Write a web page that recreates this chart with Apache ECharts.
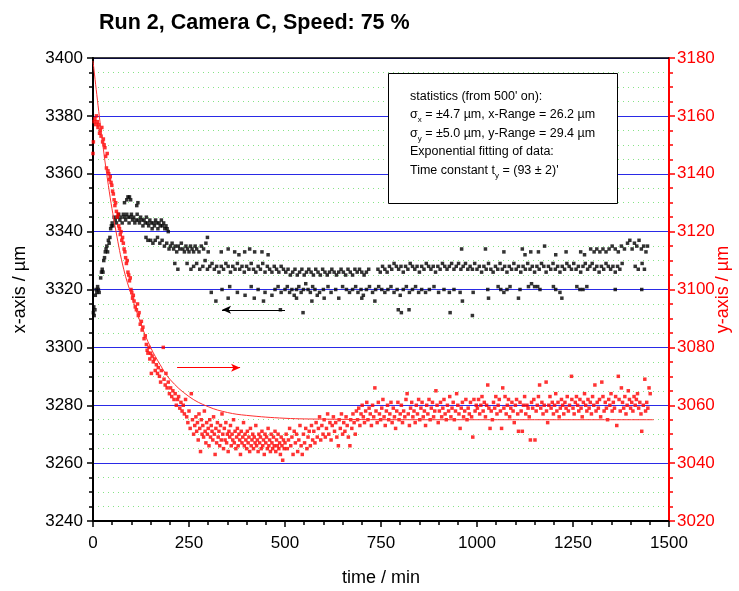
<!DOCTYPE html>
<html>
<head>
<meta charset="utf-8">
<script src="https://cdn.jsdelivr.net/npm/echarts@6/dist/echarts.min.js"></script>
<style>
html, body { margin: 0; padding: 0; background: #fff; }
#main { width: 739px; height: 591px; }
</style>
</head>
<body>
<div id="main"></div>
<script>
// x position (left axis, black), pairs [time, value]
var xStart = [[1,3312],[2,3314],[3,3311],[5,3313],[6,3318],[8,3320],[10,3319],[12,3321],[14,3320],[16,3319],[20,3324],[22,3326],[24,3327],[26,3326],[28,3330],[30,3331],[32,3333],[34,3334],[36,3335],[38,3333],[40,3337],[42,3336],[44,3338],[46,3341],[48,3342],[50,3343]];
var xPeak = [[52,3342],[55,3345],[58,3344],[61,3343],[64,3345],[67,3346],[70,3344],[73,3345],[76,3343],[79,3346],[82,3345],[85,3344],[88,3346],[91,3345],[94,3343],[97,3345],[100,3346],[103,3344],[106,3345],[109,3343],[112,3344],[115,3346],[118,3344],[121,3343],[124,3345],[127,3344],[130,3342],[133,3344],[136,3343],[139,3345],[142,3343],[145,3342],[148,3344],[151,3343],[154,3341],[157,3343],[160,3342],[163,3344],[166,3343],[169,3341],[172,3343],[175,3342],[178,3344],[181,3342],[184,3343],[187,3341],[190,3342],[193,3341],[196,3340],
  [82,3350],[88,3351],[91,3352],[95,3352],[98,3351],[114,3349],[117,3350],
  [138,3338],[143,3337],[150,3337],[156,3336],[162,3337],[168,3338],[174,3336],[180,3337],[186,3335],[192,3336],[198,3334]];
var xStep = [[202,3335],[206,3336],[210,3334],[214,3335],[218,3333],[222,3335],[226,3334],[230,3336],[234,3334],[238,3333],[242,3335],[246,3334],[250,3333],[254,3335],[258,3334],[262,3333],[266,3335],[270,3334],[276,3333],[282,3335],[288,3334],[294,3336],[298,3338],[300,3333],
  [334,3333],[352,3334],[369,3333],[380,3332],[395,3333],[408,3334],[421,3333],[440,3333],[456,3332]];
var xUpper = [[213,3329],[221,3327],[245,3329],[255,3327],[262,3328],[270,3329],[278,3327],[286,3328],[292,3330],[298,3327],[304,3328],[310,3329],[316,3327],[322,3328],[328,3326],[334,3328],[340,3327],[346,3329],[352,3328],[358,3326],[364,3328],[370,3327],[376,3329],[382,3327],[388,3328],[394,3326],[400,3328],[406,3327],[412,3329],[418,3327],[424,3326],[430,3328],[436,3327],[442,3329],[448,3326],[454,3328],[460,3327],[466,3326],[472,3328],[478,3327],[484,3326],[490,3328],[496,3327],
  [502,3326],[508,3327],[514,3325],[520,3326],[526,3327],[532,3325],[538,3326],[544,3327],[550,3325],[556,3326],[562,3327],[568,3326],[574,3325],[580,3327],[586,3326],[592,3325],[598,3327],[604,3326],[610,3325],[616,3326],[622,3327],[628,3326],[634,3325],[640,3326],[646,3327],[652,3326],[658,3325],[664,3327],[670,3326],[676,3325],[682,3327],[688,3326],[694,3327],[700,3326],[706,3325],[712,3326],[718,3327],[742,3327],[748,3326],[754,3328],[760,3327],[766,3326],[772,3328],[778,3327],[784,3329],[790,3328],[796,3327],[802,3328],[808,3326],[814,3328],[820,3327],[826,3329],[832,3328],[838,3327],[844,3328],[850,3326],[856,3328],[862,3327],[868,3329],[874,3328],[880,3327],[886,3328],[892,3326],[898,3328],[904,3327],[910,3329],[916,3328],[922,3327],[928,3328],[934,3329],[940,3327],[946,3328],[952,3329],[958,3327],[964,3328],[970,3329],[976,3327],[982,3328],[988,3327],[994,3329],
  [1000,3327],[1006,3328],[1012,3326],[1018,3328],[1024,3327],[1030,3329],[1036,3327],[1042,3326],[1048,3328],[1054,3327],[1060,3329],[1066,3327],[1072,3328],[1078,3326],[1084,3328],[1090,3327],[1096,3329],[1102,3327],[1108,3328],[1114,3326],[1120,3328],[1126,3327],[1132,3329],[1138,3327],[1144,3328],[1150,3326],[1156,3328],[1162,3327],[1168,3329],[1174,3328],[1180,3326],[1186,3328],[1192,3327],[1198,3329],[1204,3327],[1210,3328],[1216,3326],[1222,3328],[1228,3327],[1234,3329],[1240,3328],[1246,3327],[1252,3329],[1258,3327],[1264,3328],[1270,3326],[1276,3328],[1282,3329],[1288,3327],[1294,3328],[1300,3329],[1306,3327],[1312,3328],[1318,3326],[1324,3328],[1330,3327],[1336,3329],[1342,3328],[1348,3327],[1354,3328],[1360,3326],[1366,3328],[1372,3327],[1378,3329],[1412,3328],[1420,3327],[1430,3329],[1436,3327],
  [960,3334],[1022,3334],[1070,3333],[1118,3334],[1125,3332],[1140,3333],[1160,3333],[1176,3335],[1205,3332],[1232,3333],[1270,3333],[1280,3332],[1296,3334],[1305,3333],[1312,3334],[1320,3333],[1328,3334],[1336,3333],[1344,3334],[1352,3335],[1360,3334],[1368,3333],[1376,3335],[1384,3334],[1392,3336],[1398,3337],[1404,3334],[1410,3336],[1416,3335],[1422,3337],[1428,3334],[1434,3335],[1440,3333],[1444,3335]];
var xLower = [[308,3319],[336,3320],[356,3321],[376,3319],[396,3318],[412,3321],[430,3320],[448,3319],[466,3318],[474,3320],[482,3321],[490,3319],[500,3320],[506,3321],[512,3319],[518,3320],[524,3318],[530,3320],[536,3321],[542,3319],[548,3320],[554,3322],[560,3320],[566,3319],[572,3321],[578,3320],[584,3318],[590,3319],[600,3320],[612,3321],[620,3319],[632,3320],[650,3321],[660,3320],[668,3319],[676,3320],[684,3321],[690,3319],[698,3320],[704,3318],[712,3320],[720,3321],[728,3319],[736,3320],[744,3321],[752,3320],[760,3319],[768,3320],[776,3321],[784,3319],[792,3320],[800,3318],[808,3320],[816,3321],[824,3319],[832,3320],[840,3321],[848,3319],[856,3320],[866,3319],[876,3320],[888,3321],[900,3319],[914,3320],[928,3319],[940,3320],[956,3319],
  [990,3319],[1028,3320],[1055,3321],[1062,3320],[1070,3319],[1078,3320],[1086,3321],[1112,3320],[1134,3321],[1142,3322],[1150,3321],[1158,3321],[1164,3320],[1199,3321],[1205,3320],[1216,3319],[1260,3321],[1268,3320],[1276,3320],[1286,3321],[1360,3320],[1429,3320],
  [320,3316],[352,3317],[420,3317],[444,3316],[488,3313],[530,3317],[547,3312],[570,3316],[602,3317],[640,3317],[700,3317],[734,3316],[795,3313],[803,3312],[823,3313],[930,3312],[962,3316],[988,3311],[1030,3317],[1108,3317],[1221,3317]];

// y position (right axis, red), pairs [time, value]
var yDecay = [[0,3147],[1,3151],[3,3158],[5,3159],[7,3157],[9,3160],[11,3158],[13,3156],[15,3157],[17,3154],[19,3155],[21,3153],[23,3156],[25,3151],[27,3152],[29,3150],[31,3149],[33,3146],[35,3142],[37,3147],[39,3141],[41,3140],[43,3138],[45,3139],[47,3137],[49,3136],[51,3134],[53,3133],[55,3131],[57,3129],[59,3130],[61,3127],[63,3125],[65,3126],[67,3122],[69,3121],[71,3119],[73,3120],[75,3117],[77,3118],[79,3116],[81,3114],[83,3113],[85,3111],[87,3109],[89,3110],[91,3106],[93,3105],[95,3103],[97,3104],[99,3100],[101,3099],[103,3097],[105,3098],[107,3096],[110,3094],[113,3093],[116,3095],[118,3091],[120,3092],[123,3088],[126,3089],[128,3086],[130,3087],[133,3083],[136,3084],[139,3081],[141,3079],[143,3078],[146,3080],[148,3076],[150,3078],[152,3071],[154,3077],[157,3075],[160,3076],[162,3072],[165,3074],[168,3071],[170,3073],[173,3070],[176,3068],[178,3072],[183,3080],[185,3069],[188,3067],[190,3071],[193,3066],[196,3068],[199,3064],[202,3066],[205,3063],[208,3065],[211,3062],[214,3064],[217,3060],[220,3062],[223,3063],[226,3059],[229,3061],[232,3058],[235,3060],[238,3057],[241,3062],[244,3056],[247,3054],[250,3058],[253,3052],[256,3064],[259,3055],[262,3050],[265,3053]];
var yDip = [[268,3056],[270,3051],[272,3054],[274,3048],[276,3057],[278,3052],[280,3044],[282,3055],[284,3050],[286,3053],[288,3049],[290,3058],[292,3051],[294,3047],[296,3054],[298,3050],[300,3052],[302,3046],[304,3055],[306,3049],[308,3053],[310,3051],[312,3048],[314,3056],[316,3050],[318,3043],[320,3052],[322,3047],[324,3054],[326,3049],[328,3051],[330,3046],[332,3053],[334,3048],[336,3057],[338,3050],[340,3045],[342,3052],[344,3048],[346,3054],[348,3047],[350,3050],[352,3044],[354,3051],[356,3049],[358,3053],[360,3046],[362,3050],[364,3048],[366,3055],[368,3047],[370,3051],[372,3045],[374,3049],[376,3052],[378,3046],[380,3050],[382,3048],[384,3043],[386,3051],[388,3047],[390,3049],[392,3054],[394,3046],[396,3050],[398,3048],[400,3045],[402,3051],[404,3047],[406,3049],[408,3044],[410,3052],[412,3046],[414,3048],[416,3050],[418,3045],[420,3049],[422,3047],[424,3053],[426,3046],[428,3048],[430,3044],[432,3050],[434,3047],[436,3049],[438,3045],[440,3051],[442,3046],[444,3048],[446,3043],[448,3050],[450,3047],[452,3049],[454,3045],[456,3052],[458,3046],[460,3048],[462,3044],[464,3050],[466,3047],[468,3045],[470,3049],[472,3046],[474,3051],[476,3044],[478,3048],[480,3046],[482,3050],[484,3045],[486,3047],[488,3043],[490,3049],[492,3046],[494,3041],[496,3048],[498,3045],[500,3047],
  [503,3050],[506,3045],[509,3048],[512,3052],[515,3046],[518,3049],[521,3043],[524,3051],[527,3047],[530,3050],[533,3044],[536,3048],[539,3053],[542,3046],[545,3043],[548,3050],[551,3047],[554,3052],[557,3045],[560,3049],[563,3051],[566,3046],[569,3053],[572,3048]];
var yRise = [[575,3051],[578,3047],[581,3054],[584,3049],[587,3052],[590,3056],[593,3048],[596,3053],[599,3050],[602,3055],[605,3049],[608,3052],[611,3057],[614,3050],[617,3054],[620,3048],[623,3053],[626,3056],[629,3051],[632,3054],[635,3049],[639,3046],[641,3055],[644,3052],[647,3057],[650,3050],[653,3054],[656,3051],[659,3056],[662,3053],[665,3049],[669,3046],[671,3055],[674,3052],[677,3057],[680,3054],[683,3050],[686,3058],
  [689,3055],[692,3059],[695,3053],[698,3057],[701,3060],[704,3056],[707,3054],[710,3058],[713,3061],[716,3055],[719,3059],[722,3057],[725,3053],[728,3060],[731,3056],[734,3066],[737,3058],[740,3054],[743,3061],[746,3057],[749,3055],[752,3059],[755,3062],[758,3056],[761,3053],[764,3058],[767,3060],[770,3055],[773,3057],[776,3061],[779,3054],[782,3059],[785,3056],[788,3052],[791,3058],[794,3061],[797,3055],[800,3057],[803,3060],[806,3054],[809,3058],[812,3056],[815,3062],[818,3064],[821,3057],[824,3053],[827,3059],[830,3061],[833,3056],[836,3058],[839,3054],[842,3060],[845,3057],[848,3062],[851,3055],[854,3059],[857,3061],[860,3056],[863,3058],[866,3053],[869,3060],[872,3057],[875,3062],[878,3055],[881,3059],[884,3061],[887,3056],[890,3058],[893,3065],[896,3060],[899,3054],[902,3058],[905,3061],[908,3056],[911,3059],[914,3062],[917,3057],[920,3055],[923,3060],[926,3058],[929,3063],[932,3056],[935,3059],[938,3061],[941,3055],[944,3058],[947,3064],[950,3060],[953,3057],[956,3052],[959,3059],[962,3061],[965,3056],[968,3058],[971,3062],[974,3055],[977,3059],[980,3057],[983,3061],[986,3056],[989,3049],[992,3062],[995,3058],[998,3060]];
var yLate = [[1001,3059],[1004,3062],[1007,3057],[1010,3060],[1013,3063],[1016,3058],[1019,3061],[1022,3056],[1025,3060],[1028,3067],[1031,3059],[1034,3052],[1037,3058],[1040,3055],[1043,3061],[1046,3059],[1049,3063],[1052,3057],[1055,3060],[1058,3062],[1061,3058],[1064,3052],[1067,3066],[1070,3059],[1073,3063],[1076,3057],[1079,3060],[1082,3062],[1085,3056],[1088,3059],[1091,3061],[1094,3058],[1097,3054],[1100,3060],[1103,3062],[1106,3057],[1108,3051],[1112,3061],[1115,3058],[1118,3051],[1121,3060],[1124,3063],[1127,3057],[1130,3060],[1133,3059],[1136,3056],[1139,3048],[1142,3061],[1145,3059],[1148,3062],[1151,3048],[1154,3058],[1157,3060],[1160,3063],[1163,3067],[1166,3059],[1169,3061],[1172,3057],[1175,3060],[1180,3068],[1181,3058],[1184,3054],[1187,3060],[1190,3063],[1193,3059],[1196,3061],[1199,3057],[1202,3060],[1205,3064],[1208,3058],[1211,3061],[1214,3056],[1217,3059],[1220,3062],[1223,3060],[1226,3057],[1229,3061],[1232,3059],[1235,3063],[1238,3058],[1241,3060],[1246,3070],[1247,3062],[1250,3059],[1253,3057],[1256,3061],[1259,3063],[1262,3060],[1265,3058],[1268,3062],[1271,3059],[1274,3056],[1277,3061],[1280,3064],[1283,3060],[1286,3058],[1289,3062],[1292,3059],[1295,3061],[1298,3057],[1301,3063],[1304,3060],[1307,3067],[1310,3058],[1313,3061],[1316,3059],[1319,3062],[1322,3056],[1325,3068],[1328,3063],[1331,3058],[1334,3061],[1337,3059],[1340,3055],[1343,3062],[1346,3060],[1349,3064],[1352,3058],[1355,3061],[1358,3059],[1361,3063],[1364,3053],[1368,3070],[1370,3062],[1373,3058],[1376,3066],[1379,3061],[1382,3059],[1385,3063],[1388,3057],[1391,3060],[1394,3065],[1397,3062],[1400,3059],[1403,3061],[1406,3058],[1409,3063],[1412,3060],[1415,3062],[1418,3064],[1421,3059],[1424,3061],[1427,3057],[1429,3051],[1433,3060],[1437,3069],[1439,3058],[1442,3061],[1445,3059],[1448,3066],[1451,3064]];

// exponential fit (right axis)
var fitCurve = [[0,3179],[20,3156],[40,3136],[60,3120],[80,3107],[100,3098],[125,3088],[150,3080],[175,3074],[200,3069],[250,3063],[300,3059.5],[350,3057.5],[400,3056.5],[500,3055.5],[600,3055.2],[800,3055],[1000,3055],[1460,3055]];

var xArrow = [[500,3313],[336,3313]];
var yArrow = [[219,3073],[383,3073]];

var chartDom = document.getElementById('main');
var myChart = echarts.init(chartDom);
var option;

var font = 'Liberation Sans, Arial, sans-serif';
var gridBlue = '#2a2ae6';

function plain(v) { return String(v); }

option = {
    animation: false,
    backgroundColor: '#fff',
    title: {
        text: 'Run 2, Camera C, Speed: 75 %',
        left: 94,
        top: 7,
        textStyle: { fontFamily: font, fontSize: 21.5, fontWeight: 'bold', color: '#000' }
    },
    grid: { left: 93, right: 70, top: 58, bottom: 70, outerBoundsMode: 'none', containLabel: false },
    xAxis: [{
        type: 'value',
        min: 0, max: 1500, interval: 250,
        name: 'time / min',
        nameLocation: 'middle',
        nameGap: 48,
        nameTextStyle: { fontFamily: font, fontSize: 18, color: '#000' },
        axisLine: { onZero: false, lineStyle: { color: '#000', width: 2 } },
        axisTick: { length: 6, lineStyle: { color: '#000', width: 1.5 } },
        minorTick: { show: true, splitNumber: 5, length: 4, lineStyle: { color: '#000', width: 1.5 } },
        axisLabel: { fontFamily: font, fontSize: 17, color: '#000', margin: 14, formatter: plain },
        splitLine: { show: false }
    }, {
        type: 'value',
        position: 'top',
        min: 0, max: 1500,
        axisLine: { onZero: false, lineStyle: { color: '#000', width: 1.5 } },
        axisTick: { show: false },
        axisLabel: { show: false },
        splitLine: { show: false }
    }],
    yAxis: [{
        type: 'value',
        min: 3240, max: 3400, interval: 20,
        name: 'x-axis / µm',
        nameLocation: 'middle',
        nameGap: 64,
        nameTextStyle: { fontFamily: font, fontSize: 18, color: '#000' },
        axisLine: { show: true, onZero: false, lineStyle: { color: '#000', width: 2 } },
        axisTick: { show: true, length: 6, lineStyle: { color: '#000', width: 1.5 } },
        minorTick: { show: true, splitNumber: 4, length: 4, lineStyle: { color: '#000', width: 1.5 } },
        axisLabel: { fontFamily: font, fontSize: 17, color: '#000', margin: 10, formatter: plain },
        splitLine: { show: true, lineStyle: { width: 1, color: gridBlue } },
        minorSplitLine: { show: true, lineStyle: { color: '#86e486', width: 1, type: [1, 4] } }
    }, {
        type: 'value',
        min: 3020, max: 3180, interval: 20,
        name: 'y-axis / µm',
        nameLocation: 'middle',
        nameGap: 45,
        nameMoveOverlap: false,
        nameRotate: 90,
        nameTextStyle: { fontFamily: font, fontSize: 18, color: '#ff0000' },
        axisLine: { show: true, onZero: false, lineStyle: { color: '#ff0000', width: 2 } },
        axisTick: { show: true, length: 6, lineStyle: { color: '#ff0000', width: 1.5 } },
        minorTick: { show: true, splitNumber: 4, length: 4, lineStyle: { color: '#ff0000', width: 1.5 } },
        axisLabel: { fontFamily: font, fontSize: 17, color: '#ff0000', margin: 8, formatter: plain },
        splitLine: { show: false }
    }],
    series: [{
        type: 'scatter',
        name: 'x',
        yAxisIndex: 0,
        symbol: 'rect',
        symbolSize: 3.5,
        itemStyle: { color: '#000' },
        data: [].concat(xStart, xPeak, xStep, xUpper, xLower),
        markLine: {
            silent: true,
            symbol: ['none', 'arrow'],
            symbolSize: [6, 9],
            label: { show: false },
            lineStyle: { color: '#000', width: 1.2, type: 'solid' },
            data: [[{ coord: xArrow[0] }, { coord: xArrow[1] }]]
        }
    }, {
        type: 'scatter',
        name: 'y',
        yAxisIndex: 1,
        symbol: 'rect',
        symbolSize: 3.5,
        itemStyle: { color: '#ff0000' },
        data: [].concat(yDecay, yDip, yRise, yLate),
        markLine: {
            silent: true,
            symbol: ['none', 'arrow'],
            symbolSize: [6, 9],
            label: { show: false },
            lineStyle: { color: '#ff0000', width: 1.2, type: 'solid' },
            data: [[{ coord: yArrow[0] }, { coord: yArrow[1] }]]
        }
    }, {
        type: 'line',
        name: 'fit',
        yAxisIndex: 1,
        smooth: 0.4,
        showSymbol: false,
        lineStyle: { color: '#ff3030', width: 1 },
        data: fitCurve,
        z: 3
    }],
    graphic: [{
        type: 'rect',
        left: 388, top: 73,
        shape: { width: 229, height: 130 },
        style: { fill: '#fff', stroke: '#000', lineWidth: 1 },
        z: 100
    }, {
        type: 'text',
        left: 410, top: 90,
        z: 101,
        style: {
            text: '{n|statistics (from 500\' on):}\n' +
                  '{n|σ}{s|x}{n| = ±4.7 µm, x-Range = 26.2 µm}\n' +
                  '{n|σ}{s|y}{n| = ±5.0 µm, y-Range = 29.4 µm}\n' +
                  '{n|Exponential fitting of data:}\n' +
                  '{n|Time constant t}{s|y}{n| = (93 ± 2)\'}',
            rich: {
                n: { fontFamily: font, fontSize: 12.5, color: '#000', lineHeight: 18.5 },
                s: { fontFamily: font, fontSize: 8, color: '#000', lineHeight: 18.5, verticalAlign: 'bottom' }
            }
        }
    }]
};

option && myChart.setOption(option);
</script>
</body>
</html>
